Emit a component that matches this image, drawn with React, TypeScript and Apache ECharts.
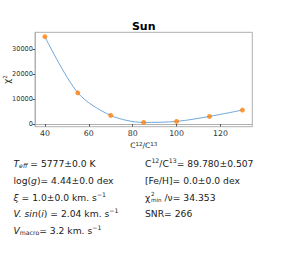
import React, { useEffect, useRef } from "react";
import * as echarts from "echarts";

const ratios = [40, 55, 70, 85, 100, 115, 130];
const chi2 = [35040, 12520, 3440, 640, 1040, 3040, 5600];
const xTicks = [40, 60, 80, 100, 120];
const yTicks = [0, 10000, 20000, 30000];
const title = "Sun";

const FONT = "DejaVu Sans";
const TXT = "#1a1a1a";
const FS = 9.2;

const rich = {
  it: { fontStyle: "italic", fontSize: FS, fontFamily: FONT, color: TXT },
  itsub: { fontStyle: "italic", fontSize: 6.2, fontFamily: FONT, color: TXT, padding: [5, 0, 0, 0] },
  sub: { fontSize: 6.2, fontFamily: FONT, color: TXT, padding: [5, 0, 0, 0] },
  sup: { fontSize: 6.2, fontFamily: FONT, color: TXT, padding: [0, 0, 5, 0] },
};

export default function App() {
  const ref = useRef<HTMLDivElement>(null);
  useEffect(() => {
    const chart = echarts.init(ref.current!, null, { renderer: "svg" });
    const line = (x: number, y: number, text: string) => ({
      type: "text",
      x,
      y,
      style: {
        text,
        fontFamily: FONT,
        fontSize: FS,
        fill: TXT,
        verticalAlign: "middle",
        rich,
      },
    });
    const L = 13.5;
    const R = 145;
    const rows = [163.3, 180, 197, 213.3, 230];
    chart.setOption({
      animation: false,
      grid: {
        left: 35,
        top: 32.3,
        right: 28.7,
        height: 94.4,
        containLabel: false,
        outerBoundsMode: "none",
        show: true,
        borderColor: "#b0b0b0",
        borderWidth: 1,
      },
      xAxis: {
        type: "value",
        min: 35.5,
        max: 134.5,
        splitLine: { show: false },
        axisLine: { lineStyle: { color: "#b0b0b0" } },
        axisTick: { show: true, length: 2.5, lineStyle: { color: "#555" }, customValues: xTicks },
        axisLabel: { fontSize: 7.8, fontFamily: FONT, color: "#333", margin: 2.5, customValues: xTicks, formatter: (v: number) => String(v) },
        name: "C{sup|12}/C{sup|13}",
        nameLocation: "middle",
        nameGap: 14,
        nameTextStyle: { fontSize: 7.5, fontFamily: FONT, color: TXT, rich: { sup: { fontSize: 5.5, fontFamily: FONT, color: TXT, padding: [0, 0, 4, 0] } } },
      },
      yAxis: {
        type: "value",
        min: -1080,
        max: 36800,
        splitLine: { show: false },
        axisLine: { show: true, lineStyle: { color: "#b0b0b0" } },
        axisTick: { show: true, length: 2.5, lineStyle: { color: "#555" }, customValues: yTicks },
        axisLabel: { fontSize: 6.6, fontFamily: FONT, color: "#333", margin: 2, customValues: yTicks, formatter: (v: number) => String(v) },
      },
      series: [
        {
          type: "line",
          data: ratios.map((r, i) => [r, chi2[i]]),
          smooth: 0.3,
          showSymbol: false,
          lineStyle: { color: "#6fa8dc", width: 1 },
          z: 1,
        },
        {
          type: "scatter",
          data: ratios.map((r, i) => [r, chi2[i]]),
          symbolSize: 5,
          itemStyle: { color: "#ff7f0e" },
          z: 2,
        },
      ],
      graphic: [
        {
          type: "text",
          x: 143.7,
          y: 26.5,
          style: { text: title, fontFamily: FONT, fontSize: 11, fontWeight: "bold", fill: "#000", align: "center", verticalAlign: "middle" },
        },
        {
          type: "text",
          x: 7,
          y: 79.5,
          rotation: Math.PI / 2,
          style: {
            text: "χ{sup|2}",
            fontFamily: FONT,
            fontSize: 8.5,
            fill: TXT,
            align: "center",
            verticalAlign: "middle",
            rich: { sup: { fontSize: 5.5, fontFamily: FONT, color: TXT, padding: [0, 0, 5, 0] } },
          },
        },
        line(L, rows[0], "{it|T}{itsub|eff} = 5777±0.0 K"),
        line(L, rows[1], "log({it|g})= 4.44±0.0 dex"),
        line(L, rows[2], "{it|ξ} = 1.0±0.0 km. s{sup|−1}"),
        line(L, rows[3], "{it|V. sin}({it|i}) = 2.04 km. s{sup|−1}"),
        line(L, rows[4], "{it|V}{sub|macro}= 3.2 km. s{sup|−1}"),
        line(R, rows[0], "C{sup|12}/C{sup|13}= 89.780±0.507"),
        line(R, rows[1], "[Fe/H]= 0.0±0.0 dex"),
        line(R, rows[2], "χ"),
        { type: "text", x: 151, y: rows[2] - 3.2, style: { text: "2", fontFamily: FONT, fontSize: 5.6, fill: TXT, verticalAlign: "middle" } },
        { type: "text", x: 151, y: rows[2] + 2.8, style: { text: "min", fontFamily: FONT, fontSize: 5.6, fill: TXT, verticalAlign: "middle" } },
        line(164.5, rows[2], "/ν= 34.353"),
        line(R, rows[3], "SNR= 266"),
      ],
    });
    return () => chart.dispose();
  }, []);
  return <div ref={ref} style={{ position: "fixed", left: 0, top: 0, width: 281, height: 271, background: "#fff" }} />;
}
